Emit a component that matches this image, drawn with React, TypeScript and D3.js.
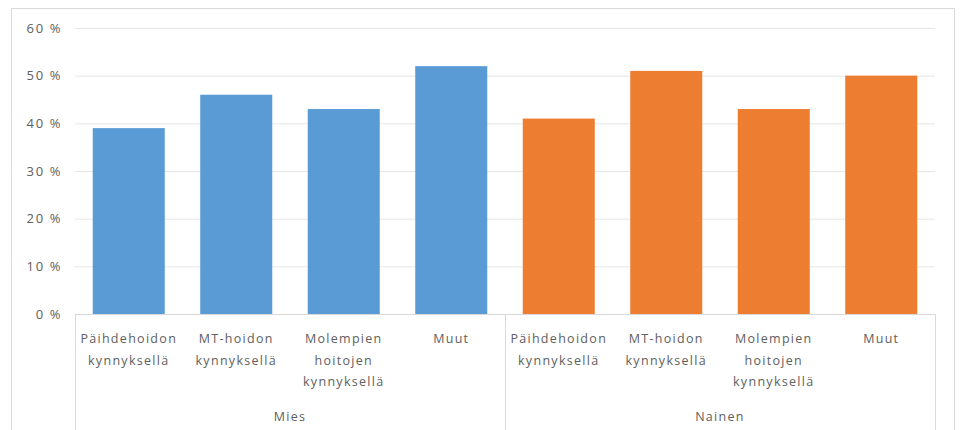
import React from "react";
import * as d3 from "d3";

const groups = ["Mies", "Nainen"];
const categories = [
  ["Päihdehoidon", "kynnyksellä"],
  ["MT-hoidon", "kynnyksellä"],
  ["Molempien", "hoitojen", "kynnyksellä"],
  ["Muut"],
];
const miesValues = [39, 46, 43, 52];
const nainenValues = [41, 51, 43, 50];
const yTicks = [0, 10, 20, 30, 40, 50, 60];
const colors = ["#5b9bd5", "#ed7d31"];

export default function App() {
  const W = 960, H = 430;
  const left = 75, right = 935, top = 28, bottom = 314;
  const series = [miesValues, nainenValues];
  const items = series.flatMap((vals, gi) =>
    vals.map((v, ci) => ({ key: `${gi}-${ci}`, gi, ci, v }))
  );
  const x = d3.scaleBand<string>().domain(items.map((d) => d.key)).range([left, right]).paddingInner(0.33).paddingOuter(0.165);
  const y = d3.scaleLinear().domain([0, 60]).range([bottom, top]);
  const groupX = d3.scaleBand<string>().domain(groups).range([left, right]);
  const textColor = "#606060";
  const font = "'Open Sans', sans-serif";
  return (
    <div style={{ position: "absolute", left: 0, top: 0 }}>
      <svg width={W} height={H} style={{ display: "block", background: "#fff" }}>
        <rect x={11.5} y={8.5} width={943} height={H} fill="#fff" stroke="#d9d9d9" />
        {yTicks.slice(1).map((t) => (
          <line key={t} x1={left} x2={right} y1={y(t) + 0.5} y2={y(t) + 0.5} stroke="#e6e6e6" />
        ))}
        {yTicks.map((t) => (
          <text key={t} x={62} y={y(t)} dy="0.35em" textAnchor="end" fontFamily={font} fontSize={13} fill={textColor} letterSpacing={1.6}>
            {`${t} %`}
          </text>
        ))}
        {items.map((d) => (
          <rect key={d.key} x={x(d.key)} y={y(d.v)} width={x.bandwidth()} height={y(0) - y(d.v)} fill={colors[d.gi]} />
        ))}
        <line x1={left} x2={right} y1={bottom + 0.5} y2={bottom + 0.5} stroke="#d9d9d9" />
        {[left, groupX("Nainen")!, right].map((xx, i) => (
          <line key={i} x1={xx + 0.5} x2={xx + 0.5} y1={bottom} y2={H} stroke="#d9d9d9" />
        ))}
        {items.map((d) => {
          const cx = x(d.key)! + x.bandwidth() / 2;
          return (
            <text key={d.key} textAnchor="middle" fontFamily={font} fontSize={12.5} fill={textColor} letterSpacing={1.3}>
              {categories[d.ci].map((line, li) => (
                <tspan key={li} x={cx} y={343 + li * 21.5}>{line}</tspan>
              ))}
            </text>
          );
        })}
        {groups.map((g) => (
          <text key={g} x={groupX(g)! + groupX.bandwidth() / 2} y={421} textAnchor="middle" fontFamily={font} fontSize={12.5} fill={textColor} letterSpacing={1.3}>
            {g}
          </text>
        ))}
      </svg>
    </div>
  );
}
